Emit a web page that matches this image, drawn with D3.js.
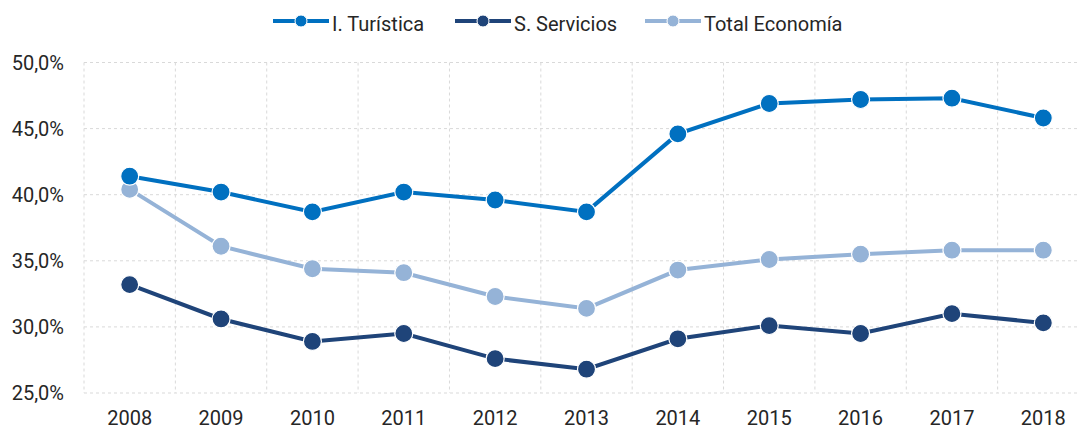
<!DOCTYPE html>
<html>
<head>
<meta charset="utf-8">
<style>
    body { margin: 0; background: #fff; }
    svg { display: block; }
    text {
        font-family: Roboto, "DejaVu Sans Condensed", sans-serif;
        fill: #262626;
    }
    .grid line { stroke: #d9d9d9; stroke-dasharray: 3,3; }
    .axis text { font-size: 20px; }
    .legend text { font-size: 20px; }
</style>
</head>
<body>
<svg width="1079" height="430"></svg>
<script src="https://d3js.org/d3.v7.min.js"></script>
<script>
    let years = ["2008","2009","2010","2011","2012","2013","2014","2015","2016","2017","2018"]
    let turistica = [41.4, 40.2, 38.7, 40.2, 39.6, 38.7, 44.6, 46.9, 47.2, 47.3, 45.8]
    let servicios = [33.2, 30.6, 28.9, 29.5, 27.6, 26.8, 29.1, 30.1, 29.5, 31.0, 30.3]
    let total = [40.4, 36.1, 34.4, 34.1, 32.3, 31.4, 34.3, 35.1, 35.5, 35.8, 35.8]
    let yTicks = [25, 30, 35, 40, 45, 50]

    let seriesNames = ["I. Turística", "S. Servicios", "Total Economía"]
    let seriesColors = ["#0070c0", "#1f4479", "#95b3d7"]

    let series = [
        { name: seriesNames[0], values: turistica, color: seriesColors[0] },
        { name: seriesNames[1], values: servicios, color: seriesColors[1] },
        { name: seriesNames[2], values: total, color: seriesColors[2] }
    ]

    let svg = d3.select("svg")

    let x = d3.scaleBand()
        .domain(years)
        .range([84, 1089])

    let y = d3.scaleLinear()
        .domain([25, 50])
        .range([393, 62.5])

    let grid = svg.append("g").attr("class", "grid")

    // horizontal gridlines
    grid.selectAll(".h")
        .data(yTicks)
        .join("line")
        .attr("x1", 84)
        .attr("x2", 1089)
        .attr("y1", d => y(d))
        .attr("y2", d => y(d))

    // vertical gridlines at category boundaries
    grid.selectAll(".v")
        .data(years)
        .join("line")
        .attr("x1", d => x(d))
        .attr("x2", d => x(d))
        .attr("y1", y(50))
        .attr("y2", y(25))

    let fmt = d => d3.format(".1f")(d).replace(".", ",") + "%"

    svg.append("g")
        .attr("class", "axis")
        .selectAll("text")
        .data(yTicks)
        .join("text")
        .attr("x", 64)
        .attr("y", d => y(d))
        .attr("dy", "0.35em")
        .attr("text-anchor", "end")
        .text(fmt)

    svg.append("g")
        .attr("class", "axis")
        .selectAll("text")
        .data(years)
        .join("text")
        .attr("x", d => x(d) + x.bandwidth() / 2)
        .attr("y", 425)
        .attr("text-anchor", "middle")
        .text(d => d)

    let line = d3.line()
        .x((d, i) => x(years[i]) + x.bandwidth() / 2)
        .y(d => y(d))

    let lines = svg.append("g")

    // draw back to front so I. Turística sits on top
    let order = [series[1], series[2], series[0]]

    order.forEach(s => {
        let g = lines.append("g")
        g.append("path")
            .datum(s.values)
            .attr("fill", "none")
            .attr("stroke", s.color)
            .attr("stroke-width", 4)
            .attr("d", line)
        g.selectAll("circle")
            .data(s.values)
            .join("circle")
            .attr("cx", (d, i) => x(years[i]) + x.bandwidth() / 2)
            .attr("cy", d => y(d))
            .attr("r", 9)
            .attr("fill", s.color)
            .attr("stroke", "#fff")
            .attr("stroke-width", 1.2)
    })

    // legend
    let legX = [273, 455, 645]
    let legend = svg.append("g")
        .attr("class", "legend")
        .selectAll("g")
        .data(series)
        .join("g")
        .attr("transform", (d, i) => `translate(${legX[i]},21)`)

    legend.append("line")
        .attr("x1", 0)
        .attr("x2", 56)
        .attr("stroke", d => d.color)
        .attr("stroke-width", 4)

    legend.append("circle")
        .attr("cx", 28)
        .attr("r", 6)
        .attr("fill", d => d.color)
        .attr("stroke", "#fff")
        .attr("stroke-width", 1)

    legend.append("text")
        .attr("x", 59)
        .attr("y", 10)
        .text(d => d.name)
</script>
</body>
</html>
